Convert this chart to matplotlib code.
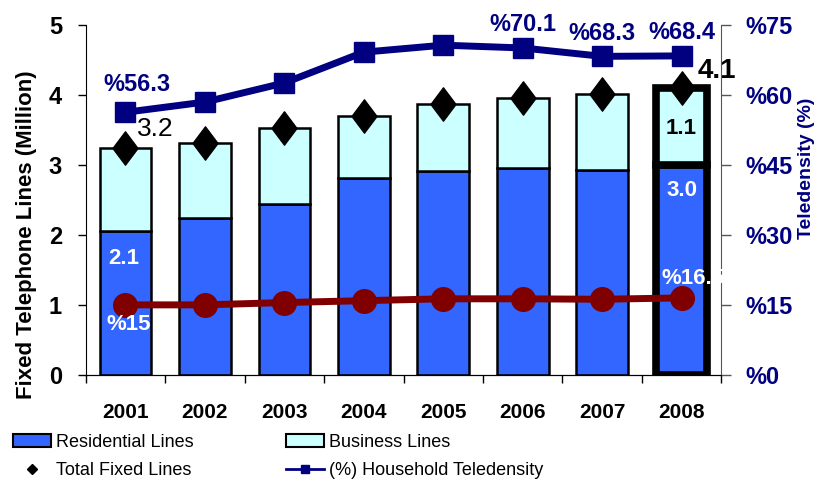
import matplotlib
matplotlib.use("Agg")
import matplotlib.pyplot as plt
from matplotlib.patches import Patch
from matplotlib.lines import Line2D
from matplotlib.path import Path
import numpy as np

plt.rcParams['font.family'] = ['Liberation Sans', 'DejaVu Sans']

years = ["2001", "2002", "2003", "2004", "2005", "2006", "2007", "2008"]
residential = [2.06, 2.24, 2.44, 2.81, 2.91, 2.96, 2.93, 3.0]
business = [1.18, 1.07, 1.09, 0.89, 0.96, 1.00, 1.08, 1.1]
total = [3.24, 3.31, 3.53, 3.70, 3.87, 3.96, 4.01, 4.1]
teledensity = [56.3, 58.5, 62.6, 69.2, 70.7, 70.1, 68.3, 68.4]
mobile_pct = [15.0, 15.0, 15.5, 15.9, 16.3, 16.3, 16.2, 16.5]
left_ticks = [0, 1, 2, 3, 4, 5]
right_ticks = [0, 15, 30, 45, 60, 75]

navy = '#000080'
maroon = '#800000'
c_res = '#3366FF'
c_bus = '#CCFFFF'

tall_diamond = Path([(0, 1), (0.75, 0), (0, -1), (-0.75, 0), (0, 1)],
                    [Path.MOVETO, Path.LINETO, Path.LINETO, Path.LINETO, Path.CLOSEPOLY])

fig = plt.figure(figsize=(8.16, 4.83), dpi=100)
ax = fig.add_axes([0.105, 0.224, 0.779, 0.724])
x = np.arange(len(years))
w = 0.65
lws = [1.8] * 7 + [5.5]
ax.bar(x, residential, w, color=c_res, edgecolor='black', linewidth=lws, zorder=2)
ax.bar(x, business, w, bottom=residential, color=c_bus, edgecolor='black', linewidth=lws, zorder=2)
ax.plot(x, total, linestyle='none', marker=tall_diamond, markersize=24, color='black', zorder=5)

ax.set_xlim(-0.5, 7.5)
ax.set_ylim(0, 5)
ax.set_yticks(left_ticks)
ax.set_yticklabels([str(t) for t in left_ticks], fontsize=17, fontweight='bold')
ax.set_xticks(np.arange(-0.5, 8.0, 1.0))
ax.set_xticklabels([])
ax.set_xticks(x, minor=True)
ax.set_xticklabels(years, minor=True, fontsize=15, fontweight='bold')
ax.tick_params(axis='x', which='minor', length=0, pad=20)
ax.tick_params(axis='x', which='major', length=6, width=1)
ax.tick_params(axis='y', length=6, width=1, pad=11)
ax.spines['top'].set_visible(False)
ax.spines['right'].set_visible(False)
ax.set_ylabel('Fixed Telephone Lines (Million)', fontsize=16, fontweight='bold')
ax.yaxis.set_label_coords(-0.077, 0.40)

ax2 = ax.twinx()
ax2.set_ylim(0, 75)
ax2.set_yticks(right_ticks)
ax2.set_yticklabels(['%' + str(t) for t in right_ticks], fontsize=17, fontweight='bold', color=navy)
ax2.tick_params(axis='y', length=7, width=1, colors='#555555', labelcolor=navy, pad=10)
ax2.spines['top'].set_visible(False)
ax2.spines['left'].set_visible(False)
ax2.spines['right'].set_color('#555555')
ax2.set_ylabel('Teledensity (%)', fontsize=14, fontweight='bold', color=navy)
ax2.yaxis.set_label_coords(1.12, 0.59)
ax2.plot(x, teledensity, color=navy, linewidth=5, marker='s', markersize=15, zorder=6)
ax2.plot(x, mobile_pct, color=maroon, linewidth=5, marker='o', markersize=17, zorder=6)

# labels
ax2.text(x[0] + 0.15, teledensity[0] + 6, '%56.3', ha='center', va='center', color=navy, fontsize=17,
         fontweight='bold')
for i in [5, 6, 7]:
    ax2.text(x[i], teledensity[i] + 5, '%' + f'{teledensity[i]:.1f}', ha='center', va='center',
             color=navy, fontsize=17, fontweight='bold')
ax.text(x[0] + 0.15, total[0] + 0.28, f'{total[0]:.1f}', ha='left', va='center', fontsize=19, color='black')
ax.text(x[7] + 0.2, total[7] + 0.25, f'{total[7]:.1f}', ha='left', va='center', fontsize=20,
        fontweight='bold', color='black')
ax.text(x[0] - 0.02, 1.67, f'{residential[0]:.1f}', ha='center', va='center', color='white',
        fontsize=16, fontweight='bold', zorder=7)
ax.text(x[7], 2.64, f'{residential[7]:.1f}', ha='center', va='center', color='white',
        fontsize=16, fontweight='bold', zorder=7)
ax.text(x[7], 3.52, f'{business[7]:.1f}', ha='center', va='center',
        color='black', fontsize=16, fontweight='bold', zorder=7)
ax2.text(x[0] + 0.04, 10.7, '%15', ha='center', va='center', color='white', fontsize=16,
         fontweight='bold', zorder=7)
ax2.text(x[7] + 0.15, 20.6, '%16.5', ha='center', va='center', color='white', fontsize=16,
         fontweight='bold', zorder=7)

handles = [Patch(facecolor=c_res, edgecolor='black', linewidth=1.5),
           Line2D([], [], marker='D', color='black', linestyle='none', markersize=5),
           Patch(facecolor=c_bus, edgecolor='black', linewidth=1.5),
           Line2D([], [], marker='s', color=navy, linewidth=2, markersize=6)]
labels = ['Residential Lines', 'Total Fixed Lines', 'Business Lines', '(%) Household Teledensity']
fig.legend(handles, labels, loc='upper left', bbox_to_anchor=(0.016, 0.102), ncol=2, frameon=False,
           prop={'size': 13}, columnspacing=5.1, handlelength=2.1, handletextpad=0.3,
           labelspacing=0.65, borderaxespad=0, borderpad=0)

fig.savefig('out.png', dpi=100)
